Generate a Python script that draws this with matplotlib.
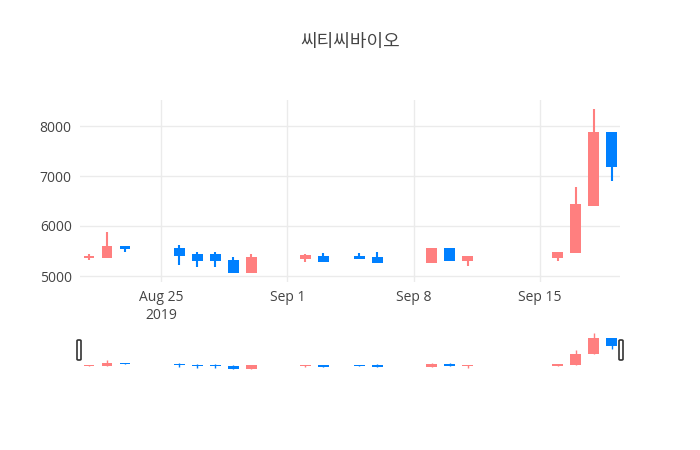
import matplotlib
matplotlib.use("Agg")
import matplotlib.pyplot as plt
import matplotlib.dates as mdates
from matplotlib.patches import FancyBboxPatch
import datetime as dt

plt.rcParams['font.family'] = ['Open Sans', 'Noto Sans CJK KR', 'DejaVu Sans']

dates = ["2019-08-21","2019-08-22","2019-08-23","2019-08-26","2019-08-27","2019-08-28",
         "2019-08-29","2019-08-30","2019-09-02","2019-09-03","2019-09-05","2019-09-06",
         "2019-09-09","2019-09-10","2019-09-11","2019-09-16","2019-09-17","2019-09-18","2019-09-19"]
opens  = [5370,5353,5607,5560,5433,5433,5320,5060,5347,5400,5400,5380,5253,5553,5307,5367,5460,6400,7887]
highs  = [5450,5873,5607,5627,5487,5487,5380,5440,5440,5453,5467,5473,5567,5567,5407,5487,6787,8347,7887]
lows   = [5320,5353,5487,5227,5173,5173,5060,5060,5280,5273,5340,5253,5253,5307,5193,5307,5460,6400,6900]
closes = [5400,5607,5540,5400,5293,5293,5060,5380,5413,5287,5340,5253,5553,5307,5407,5487,6433,7887,7173]

UP, DOWN = '#ff7f7f', '#0080ff'
x = mdates.date2num([dt.datetime.strptime(d, "%Y-%m-%d") for d in dates])

fig = plt.figure(figsize=(7, 4.5), dpi=100)
ax = fig.add_axes([80/700, 168/450, 540/700, 182/450])
sl = fig.add_axes([80/700, 80/450, 540/700, 38/450])

def candles(a, w, lw, minh):
    for xi, o, h, l, c in zip(x, opens, highs, lows, closes):
        col = UP if c >= o else DOWN
        a.vlines(xi, l, h, color=col, lw=lw, zorder=2)
        a.bar(xi, max(abs(c - o), minh), width=w, bottom=min(o, c), color=col, zorder=3)

candles(ax, 0.6, 1.5, 10)
candles(sl, 0.6, 1.0, 60)

xmin = x[0] - 0.5
xmax = x[-1] + 0.45
for a in (ax, sl):
    a.set_xlim(xmin, xmax)
ax.set_ylim(4880, 8520)
sl.set_ylim(4970, 8430)

ax.set_yticks([5000, 6000, 7000, 8000])
ax.grid(True, color='#ebebeb', lw=1, zorder=0)
ticks = mdates.date2num([dt.datetime(2019,8,25), dt.datetime(2019,9,1), dt.datetime(2019,9,8), dt.datetime(2019,9,15)])
ax.set_xticks(ticks)
ax.set_xticklabels(["Aug 25\n2019", "Sep 1", "Sep 8", "Sep 15"])
for s in ax.spines.values():
    s.set_visible(False)
ax.tick_params(length=0, labelsize=10, colors='#444444', pad=6)
ax.set_axisbelow(True)

sl.set_xticks([]); sl.set_yticks([])
for s in sl.spines.values():
    s.set_visible(False)
for px in (79, 621):
    fig.patches.append(FancyBboxPatch(((px - 2)/700, 1 - 360/450), 4/700, 20/450,
                                      boxstyle="round,pad=0,rounding_size=0.002",
                                      transform=fig.transFigure, facecolor='white',
                                      edgecolor='#333333', lw=1.2, zorder=5))

fig.text(350/700, 1 - 42/450, "씨티씨바이오", ha='center', va='center', fontsize=13, color='#444444')
fig.savefig("out.png", dpi=100)
